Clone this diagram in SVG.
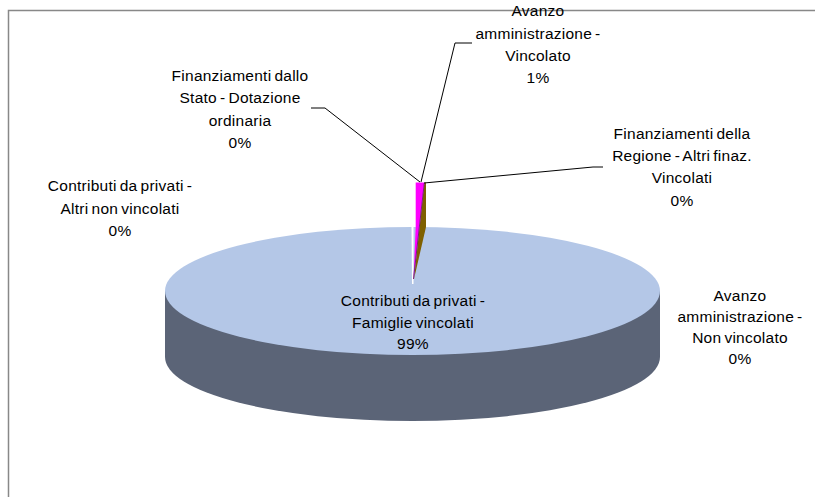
<svg xmlns="http://www.w3.org/2000/svg" width="815" height="497" viewBox="0 0 815 497">
<style>
text{font-family:"Liberation Sans",Arial,sans-serif;font-size:15.5px;letter-spacing:0.25px;word-spacing:-1.5px;fill:#000;text-anchor:middle}
.lead{fill:none;stroke:#000;stroke-width:1}
</style>
<rect width="815" height="497" fill="#fff"/>
<path d="M8.5 497 V10.5 H815" fill="none" stroke="#888" stroke-width="1.5"/>
<g id="pie">
<path d="M165 291 V357 A247.5 64 0 0 0 660 357 V291 Z" fill="#5B6477"/>
<ellipse cx="412.5" cy="291" rx="247.5" ry="64" fill="#B4C7E7"/>
<polygon points="411.5,226 413.5,226 413.5,284 412,284" fill="#fff"/>
<polygon points="424.3,182.5 426,182.5 426,227 414,279" fill="#7F6000"/>
<polygon points="415.7,182.5 424.3,182.5 413.5,279 415.7,227" fill="#FF00FF"/>
<line x1="424.3" y1="183" x2="413.5" y2="279" stroke="#7A1F7A" stroke-width="1"/>
</g>
<g id="connectors">
<polyline class="lead" points="311,108 325,108 420,182"/>
<polyline class="lead" points="472,43 455,43 421,182"/>
<polyline class="lead" points="603,167 593,167 424,183"/>
</g>
<g id="label-avanzo-vincolato">
<text x="538" y="16">Avanzo</text>
<text x="538" y="39">amministrazione -</text>
<text x="538" y="61">Vincolato</text>
<text x="538" y="83">1%</text>
</g>
<g id="label-stato">
<text x="240" y="81">Finanziamenti dallo</text>
<text x="240" y="103">Stato - Dotazione</text>
<text x="240" y="126">ordinaria</text>
<text x="240" y="148">0%</text>
</g>
<g id="label-altri">
<text x="120" y="191">Contributi da privati -</text>
<text x="120" y="214">Altri non vincolati</text>
<text x="120" y="236">0%</text>
</g>
<g id="label-regione">
<text x="682" y="139">Finanziamenti della</text>
<text x="682" y="161">Regione - Altri finaz.</text>
<text x="682" y="183">Vincolati</text>
<text x="682" y="206">0%</text>
</g>
<g id="label-nonvincolato">
<text x="740" y="301">Avanzo</text>
<text x="740" y="322">amministrazione -</text>
<text x="740" y="343">Non vincolato</text>
<text x="740" y="364">0%</text>
</g>
<g id="label-famiglie">
<text x="413" y="306">Contributi da privati -</text>
<text x="413" y="328">Famiglie vincolati</text>
<text x="413" y="349">99%</text>
</g>
</svg>
